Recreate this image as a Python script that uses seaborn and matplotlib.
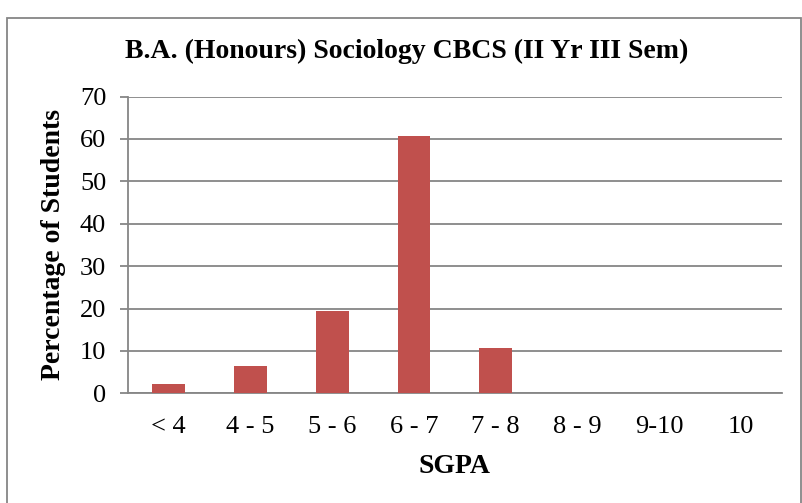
import matplotlib
matplotlib.use("Agg")
import matplotlib.pyplot as plt
from matplotlib.patches import Rectangle
import seaborn as sns
import pandas as pd

# -----------------------------
# Data
# -----------------------------
sgpa_bins = ["< 4", "4 - 5", "5 - 6", "6 - 7", "7 - 8", "8 - 9", "9-10", "10"]
pct_students = [2.1, 6.5, 19.5, 60.8, 10.8, 0, 0, 0]
y_ticks = [0, 10, 20, 30, 40, 50, 60, 70]

df = pd.DataFrame({"SGPA": sgpa_bins, "Percentage": pct_students})

# -----------------------------
# Style
# -----------------------------
sns.set_theme(style="white")
plt.rcParams["font.family"] = ["Liberation Serif", "DejaVu Serif"]
plt.rcParams["text.color"] = "black"
plt.rcParams["axes.labelcolor"] = "black"
grid_col = "#868686"

fig = plt.figure(figsize=(8.03, 5.03), dpi=100)
ax = fig.add_axes([0.159, 0.218, 0.815, 0.590])

sns.barplot(data=df, x="SGPA", y="Percentage", color="#C0504D",
            width=0.4, saturation=1, edgecolor="none", ax=ax, zorder=3)

ax.set_ylim(0, 70)
ax.set_xlim(-0.5, len(sgpa_bins) - 0.5)
ax.set_yticks(y_ticks)
ax.yaxis.grid(True, color=grid_col, linewidth=1.3, zorder=0)
ax.set_axisbelow(True)

for s in ["top", "right"]:
    ax.spines[s].set_visible(False)
for s in ["left", "bottom"]:
    ax.spines[s].set_color(grid_col)
    ax.spines[s].set_linewidth(1.3)

ax.tick_params(axis="y", left=True, length=5.5, width=1.3, color=grid_col,
               labelsize=19, pad=10, labelcolor="black")
ax.tick_params(axis="x", bottom=False, labelsize=19, pad=10, labelcolor="black")

ax.set_xlabel("SGPA", fontsize=20, fontweight="bold")
ax.set_ylabel("Percentage of Students", fontsize=20, fontweight="bold")
ax.xaxis.set_label_coords(0.5, -0.205)
ax.yaxis.set_label_coords(-0.094, 0.5)
fig.text(0.507, 0.897, "B.A. (Honours) Sociology CBCS (II Yr III Sem)",
         ha="center", va="center", fontsize=20, fontweight="bold")

# chart border
fig.patches.append(Rectangle((7 / 803, -0.05), 794 / 803, 1.05 - 18 / 503,
                             transform=fig.transFigure, fill=False,
                             edgecolor=grid_col, linewidth=1.3))

fig.savefig("out.png", dpi=100)
